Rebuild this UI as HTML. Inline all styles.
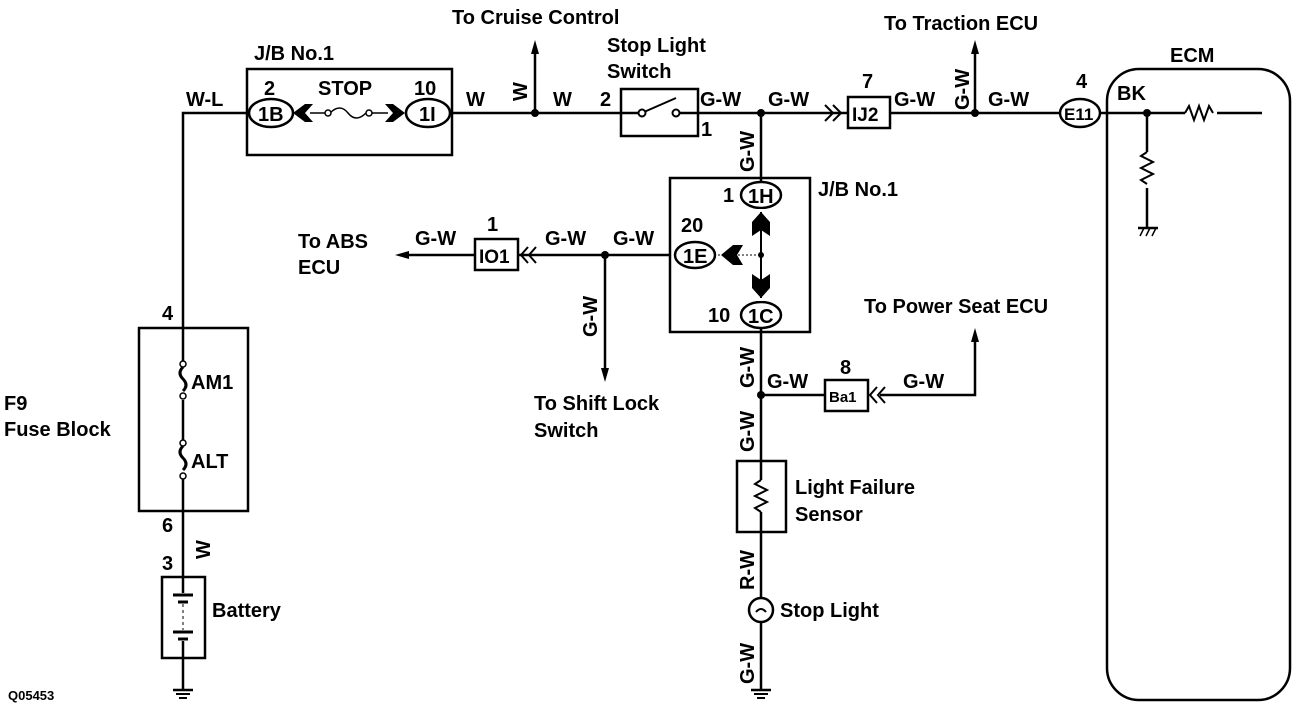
<!DOCTYPE html>
<html><head><meta charset="utf-8"><style>
html,body{margin:0;padding:0;background:#fff}
svg{display:block}
text{font-family:"Liberation Sans",sans-serif;font-weight:bold;fill:#000}
</style></head><body>
<svg width="1312" height="710" viewBox="0 0 1312 710" xmlns="http://www.w3.org/2000/svg">
<g stroke="#000" stroke-width="2.5" fill="none">
<polyline points="248,113 183,113 183,362"/>
<line x1="183" y1="400" x2="183" y2="442"/>
<line x1="183" y1="479" x2="183" y2="577"/>
<line x1="183" y1="658" x2="183" y2="690"/>
<line x1="452" y1="113" x2="621" y2="113"/>
<line x1="698" y1="113" x2="848" y2="113"/>
<line x1="890" y1="113" x2="1060" y2="113"/>
<line x1="1100" y1="113" x2="1185" y2="113"/>
<line x1="1217" y1="113" x2="1262" y2="113"/>
<rect x="247" y="69" width="205" height="86"/>
<ellipse cx="271" cy="113" rx="22" ry="14" fill="#fff"/>
<ellipse cx="428" cy="113" rx="22" ry="14" fill="#fff"/>
<line x1="310" y1="113" x2="326" y2="113" stroke-width="1.5"/>
<path d="M330,113 q10,-10 18,0 t18,0" stroke-width="1.5"/>
<line x1="370" y1="113" x2="388" y2="113" stroke-width="1.5"/>
<circle cx="328" cy="113" r="3" fill="#fff" stroke-width="1.5"/>
<circle cx="369" cy="113" r="3" fill="#fff" stroke-width="1.5"/>
<line x1="535" y1="113" x2="535" y2="48"/>
<rect x="621" y="89" width="77" height="47"/>
<line x1="621" y1="113" x2="640" y2="113"/>
<line x1="679" y1="113" x2="698" y2="113"/>
<line x1="644" y1="112" x2="676" y2="98" stroke-width="2"/>
<circle cx="642" cy="113" r="3.5" fill="#fff" stroke-width="2"/>
<circle cx="676" cy="113" r="3.5" fill="#fff" stroke-width="2"/>
<rect x="848" y="97" width="42" height="31"/>
<polyline points="825,105 833,113 825,121" stroke-width="2"/>
<polyline points="833,105 841,113 833,121" stroke-width="2"/>
<line x1="975" y1="113" x2="975" y2="50"/>
<ellipse cx="1080" cy="113" rx="20" ry="14"/>
<rect x="1107" y="69" width="183" height="631" rx="32" ry="32"/>
<path d="M1185,113 l4,-7 5,14 5,-14 5,14 5,-14 4,7" stroke-width="2"/>
<line x1="1147" y1="113" x2="1147" y2="152"/>
<line x1="1147" y1="188" x2="1147" y2="228"/>
<path d="M1147,152 l-6,4 12,6 -12,6 12,6 -12,6 6,4" stroke-width="2"/>
<line x1="1138" y1="228" x2="1158" y2="228"/>
<path d="M1140,236 l4,-8 M1146,236 l4,-8 M1152,236 l4,-8" stroke-width="1.5"/>
<line x1="761" y1="113" x2="761" y2="480"/>
<line x1="761" y1="512" x2="761" y2="690"/>
<rect x="670" y="178" width="140" height="154"/>
<ellipse cx="761" cy="195" rx="20" ry="13" fill="#fff"/>
<ellipse cx="695" cy="255" rx="20" ry="13" fill="#fff"/>
<ellipse cx="761" cy="315" rx="20" ry="13" fill="#fff"/>
<rect x="755" y="209" width="12" height="92" fill="#fff" stroke="none"/>
<line x1="761" y1="212" x2="761" y2="298" stroke-width="2"/>
<line x1="718" y1="255" x2="761" y2="255" stroke-width="1" stroke-dasharray="2,2"/>
<line x1="670" y1="255" x2="518" y2="255"/>
<line x1="475" y1="255" x2="400" y2="255"/>
<rect x="475" y="239" width="43" height="31"/>
<polyline points="528,247 521,255 528,263" stroke-width="2"/>
<polyline points="536,247 529,255 536,263" stroke-width="2"/>
<line x1="605" y1="255" x2="605" y2="372"/>
<line x1="761" y1="395" x2="825" y2="395"/>
<rect x="825" y="380" width="43" height="31"/>
<polyline points="877,387 870,395 877,403" stroke-width="2"/>
<polyline points="885,387 878,395 885,403" stroke-width="2"/>
<polyline points="880,395 975,395 975,338"/>
<rect x="737" y="461" width="49" height="71"/>
<path d="M761,480 l-6,4 12,6 -12,6 12,6 -12,6 6,4" stroke-width="2"/>
<circle cx="761" cy="610" r="12" fill="#fff"/>
<path d="M756,612 q5,-6 10,0" stroke-width="2"/>
<rect x="139" y="328" width="109" height="183"/>
<path d="M183,367 q-6,6 0,12 q6,6 0,12" stroke-width="3"/>
<path d="M183,446 q-6,6 0,12 q6,6 0,12" stroke-width="3"/>
<circle cx="183" cy="364" r="3" fill="#fff" stroke-width="1.5"/>
<circle cx="183" cy="396" r="3" fill="#fff" stroke-width="1.5"/>
<circle cx="183" cy="443" r="3" fill="#fff" stroke-width="1.5"/>
<circle cx="183" cy="476" r="3" fill="#fff" stroke-width="1.5"/>
<rect x="162" y="577" width="43" height="81"/>
<line x1="183" y1="577" x2="183" y2="593"/>
<line x1="173" y1="595" x2="193" y2="595" stroke-width="3"/>
<line x1="178" y1="602" x2="188" y2="602" stroke-width="3"/>
<line x1="183" y1="604" x2="183" y2="630" stroke-width="1" stroke-dasharray="3,3"/>
<line x1="173" y1="632" x2="193" y2="632" stroke-width="3"/>
<line x1="178" y1="639" x2="188" y2="639" stroke-width="3"/>
<line x1="183" y1="641" x2="183" y2="658"/>
<line x1="173" y1="690" x2="193" y2="690"/><line x1="176" y1="694" x2="190" y2="694" stroke-width="2"/><line x1="179" y1="698" x2="187" y2="698" stroke-width="2"/>
<line x1="751" y1="690" x2="771" y2="690"/><line x1="754" y1="694" x2="768" y2="694" stroke-width="2"/><line x1="757" y1="698" x2="765" y2="698" stroke-width="2"/>
</g>
<g fill="#000">
<path d="M293,113 l12,-9 h8 l-8,9 8,9 h-8z"/>
<path d="M405,113 l-12,-9 h-8 l8,9 -8,9 h8z"/>
<path d="M721,255 l12,-10 h10 l-6,10 6,10 h-10z"/>
<path d="M761,212 l-9,10 v14 l9,-6 9,6 v-14z"/>
<path d="M761,298 l-9,-10 v-14 l9,6 9,-6 v14z"/>
<path d="M535,40 l-4,14 h8z"/>
<path d="M975,40 l-4,14 h8z"/>
<path d="M395,255 l14,-4 v8z"/>
<path d="M605,382 l-4,-14 h8z"/>
<path d="M975,328 l-4,14 h8z"/>
<circle cx="535" cy="113" r="4"/><circle cx="761" cy="113" r="4"/><circle cx="975" cy="113" r="4"/>
<circle cx="1147" cy="113" r="4"/><circle cx="605" cy="255" r="4"/><circle cx="761" cy="395" r="4"/>
<circle cx="761" cy="255" r="3"/>
</g>
<g font-size="20">
<text x="452" y="24">To Cruise Control</text>
<text x="884" y="30">To Traction ECU</text>
<text x="1170" y="62">ECM</text>
<text x="254" y="60">J/B No.1</text>
<text x="607" y="52">Stop Light</text>
<text x="607" y="78">Switch</text>
<text x="186" y="106">W-L</text>
<text x="264" y="95">2</text>
<text x="318" y="95">STOP</text>
<text x="414" y="95">10</text>
<text x="258" y="121">1B</text>
<text x="419" y="121">1I</text>
<text x="466" y="106">W</text>
<text x="553" y="106">W</text>
<text x="600" y="106">2</text>
<text x="701" y="136">1</text>
<text x="700" y="106">G-W</text>
<text x="768" y="106">G-W</text>
<text x="862" y="88">7</text>
<text x="852" y="121" font-size="19">IJ2</text>
<text x="894" y="106">G-W</text>
<text x="988" y="106">G-W</text>
<text x="1076" y="88">4</text>
<text x="1064" y="120" font-size="17">E11</text>
<text x="1117" y="100">BK</text>
<text x="818" y="196">J/B No.1</text>
<text x="723" y="202">1</text>
<text x="748" y="203">1H</text>
<text x="681" y="232">20</text>
<text x="683" y="263">1E</text>
<text x="708" y="322">10</text>
<text x="748" y="323">1C</text>
<text x="613" y="245">G-W</text>
<text x="545" y="245">G-W</text>
<text x="415" y="245">G-W</text>
<text x="487" y="231">1</text>
<text x="479" y="263" font-size="19">IO1</text>
<text x="298" y="248">To ABS</text>
<text x="298" y="274">ECU</text>
<text x="534" y="410">To Shift Lock</text>
<text x="534" y="437">Switch</text>
<text x="864" y="313">To Power Seat ECU</text>
<text x="767" y="388">G-W</text>
<text x="903" y="388">G-W</text>
<text x="840" y="374">8</text>
<text x="829" y="402" font-size="15">Ba1</text>
<text x="795" y="494">Light Failure</text>
<text x="795" y="521">Sensor</text>
<text x="780" y="617">Stop Light</text>
<text x="162" y="320">4</text>
<text x="191" y="389">AM1</text>
<text x="191" y="468">ALT</text>
<text x="4" y="410">F9</text>
<text x="4" y="436">Fuse Block</text>
<text x="162" y="532">6</text>
<text x="162" y="570">3</text>
<text x="212" y="617">Battery</text>
<text x="8" y="700" font-size="13" font-weight="normal">Q05453</text>
</g>
<g font-size="20">
<text transform="translate(527,101) rotate(-90)">W</text>
<text transform="translate(210,559) rotate(-90)">W</text>
<text transform="translate(969,110) rotate(-90)">G-W</text>
<text transform="translate(754,172) rotate(-90)">G-W</text>
<text transform="translate(597,337) rotate(-90)">G-W</text>
<text transform="translate(754,388) rotate(-90)">G-W</text>
<text transform="translate(754,452) rotate(-90)">G-W</text>
<text transform="translate(754,590) rotate(-90)">R-W</text>
<text transform="translate(754,684) rotate(-90)">G-W</text>
</g>
</svg>
</body></html>
